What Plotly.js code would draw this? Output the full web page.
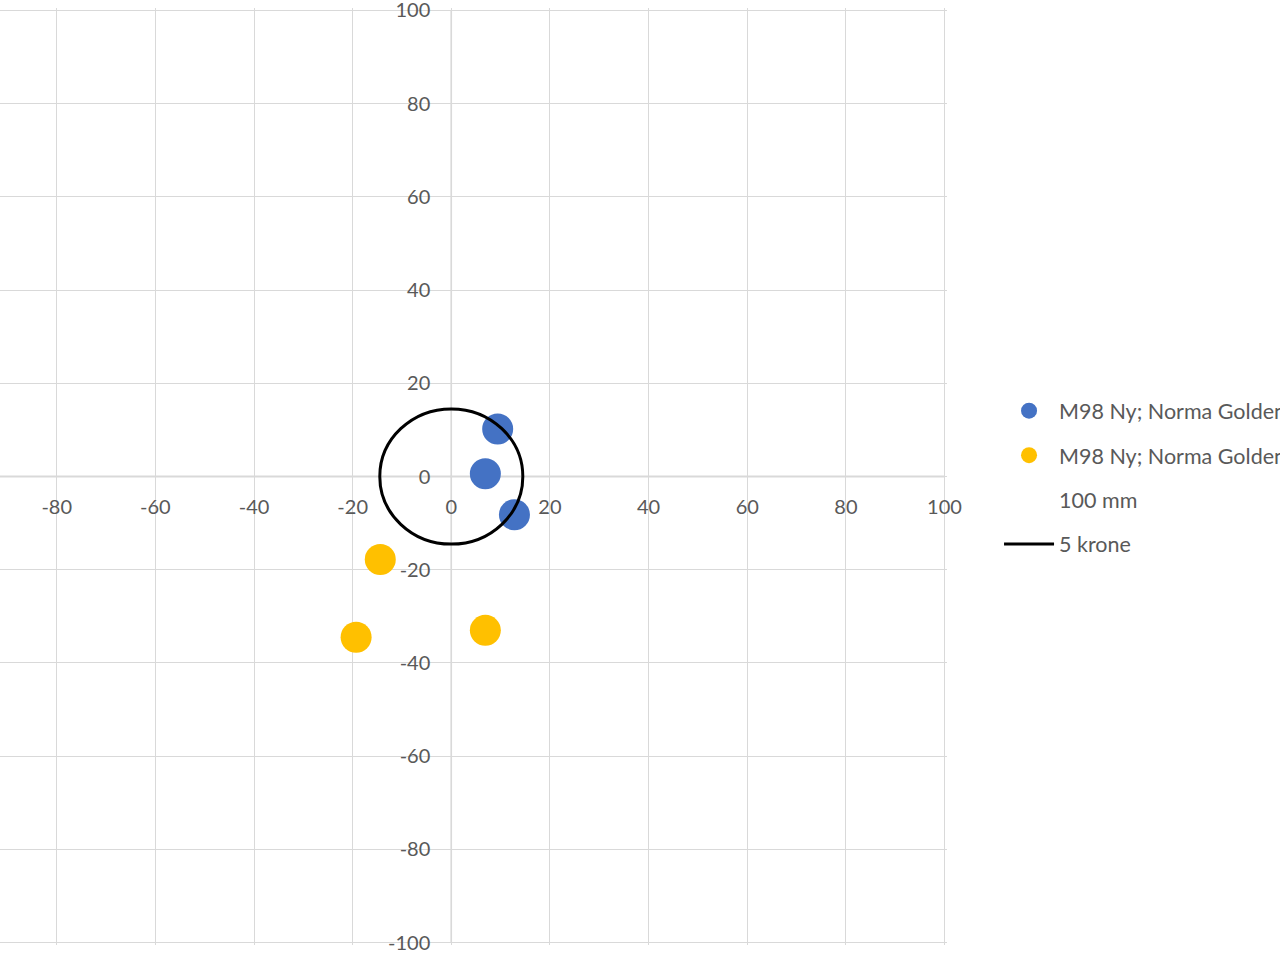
<!DOCTYPE html>
<html><head><meta charset="utf-8">
<script src="https://cdn.plot.ly/plotly-3.0.1.min.js"></script>
<style>html,body{margin:0;padding:0;background:#fff}#chart{width:1280px;height:960px}</style>
</head><body><div id="chart"></div>
<script>
const blueX = [9.4, 6.9, 12.8];
const blueY = [10.2, 0.6, -8.2];
const yellowX = [-14.4, -19.3, 6.9];
const yellowY = [-17.8, -34.5, -33.0];
const frameX = [-100, 100, 100, -100];
const frameY = [100, 100, -100, -100];
const coinDiameter = 29;
const seriesNames = ['M98 Ny; Norma Golden Target', 'M98 Ny; Norma Golden Target', '100 mm', '5 krone'];
const tickVals = [-100, -80, -60, -40, -20, 0, 20, 40, 60, 80, 100];
const tickText = ['-100', '-80', '-60', '-40', '-20', '0', '20', '40', '60', '80', '100'];

const txt = '#595959';
const font = {family: 'Lato, "Open Sans", sans-serif', size: 20, color: txt};
const legFont = {family: 'Lato, "Open Sans", sans-serif', size: 21.5, color: txt};
const r = coinDiameter / 2;
const xRange = [-91.5, 100.5];
const yRange = [-100.5, 100.5];

const traces = [
  {x: blueX, y: blueY, mode: 'markers', name: seriesNames[0], legendrank: 1, legendgroup: 'a',
   marker: {color: '#4472c4', size: 31}},
  {x: yellowX, y: yellowY, mode: 'markers', name: seriesNames[1], legendrank: 2, legendgroup: 'b',
   marker: {color: '#ffc000', size: 31}},
  {x: frameX, y: frameY, mode: 'markers', name: seriesNames[2], legendrank: 3, legendgroup: 'c',
   marker: {color: 'rgba(0,0,0,0)', size: 10}},
  {x: [null], y: [null], mode: 'lines', name: seriesNames[3], legendrank: 4, legendgroup: 'd',
   line: {color: '#000', width: 3}}
];

const layout = {
  width: 1280, height: 960,
  margin: {l: 0, r: 333, t: 8, b: 15},
  paper_bgcolor: '#fff', plot_bgcolor: '#fff',
  font: font,
  showlegend: true,
  legend: {xref: 'container', yref: 'container', x: 0.7805, y: 0.5935, xanchor: 'left', yanchor: 'top',
           font: legFont, itemwidth: 50, tracegroupgap: 13.5, traceorder: 'grouped', bgcolor: 'rgba(0,0,0,0)'},
  xaxis: {range: xRange, tickvals: tickVals, ticktext: tickText, showgrid: true, gridcolor: '#d9d9d9', gridwidth: 1,
          zeroline: false, anchor: 'free', position: -yRange[0] / (yRange[1] - yRange[0]), showline: false,
          ticks: 'outside', ticklen: 0, ticklabelstandoff: 12, ticklabeloverflow: 'allow', tickfont: font, fixedrange: true},
  yaxis: {range: yRange, tickvals: tickVals, ticktext: tickText, showgrid: true, gridcolor: '#d9d9d9', gridwidth: 1,
          zeroline: false, anchor: 'free', position: -xRange[0] / (xRange[1] - xRange[0]), showline: false,
          ticks: 'outside', ticklen: 0, ticklabelstandoff: 17, ticklabeloverflow: 'allow', tickfont: font, fixedrange: true},
  shapes: [
    {type: 'line', xref: 'x', yref: 'y', x0: -100, x1: 100, y0: 0, y1: 0, line: {color: '#b4b4b4', width: 1.5}, layer: 'below'},
    {type: 'line', xref: 'x', yref: 'y', x0: 0, x1: 0, y0: -100, y1: 100, line: {color: '#cccccc', width: 1.5}, layer: 'below'},
    {type: 'circle', xref: 'x', yref: 'y', x0: -r, x1: r, y0: -r, y1: r,
     line: {color: '#000', width: 3}}
  ]
};

Plotly.newPlot('chart', traces, layout, {displayModeBar: false, staticPlot: true});
</script></body></html>
